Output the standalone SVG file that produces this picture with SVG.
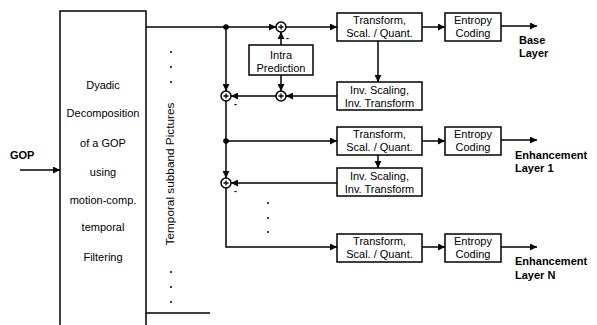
<svg xmlns="http://www.w3.org/2000/svg" width="597" height="325" viewBox="0 0 597 325">
<defs>
<marker id="ah" viewBox="0 0 10 10" refX="10" refY="5" markerWidth="7" markerHeight="7" markerUnits="userSpaceOnUse" orient="auto">
<path d="M0,0 L10,5 L0,10 z" fill="#000"/>
</marker>
<g id="sum">
<circle cx="0" cy="0" r="5" fill="#fff" stroke="#000" stroke-width="1.5"/>
<path d="M-2.5,0 H2.5 M0,-2.5 V2.5" stroke="#000" stroke-width="1.3"/>
</g>
</defs>
<style>
.box{fill:#fff;stroke:#000;stroke-width:1.5}
.t{font-family:"Liberation Sans",Arial,sans-serif;font-size:11px;text-anchor:middle;fill:#000}
.r{font-family:"Liberation Sans",Arial,sans-serif;font-size:11.8px;text-anchor:middle;fill:#000}
.b{font-family:"Liberation Sans",Arial,sans-serif;font-size:11px;font-weight:bold;fill:#000}
.c{fill:none;stroke:#000;stroke-width:1.5}
.a{marker-end:url(#ah)}
.m{font-family:"Liberation Sans",Arial,sans-serif;font-size:9px;font-weight:bold;fill:#000}
</style>
<rect width="597" height="325" fill="#fff"/>

<g id="decomposition">
<path class="c" d="M60,325 V11 H146 V325"/>
<text class="t" x="103" y="89">Dyadic</text>
<text class="t" x="103" y="117">Decomposition</text>
<text class="t" x="103" y="147">of a GOP</text>
<text class="t" x="103" y="176">using</text>
<text class="t" x="103" y="204">motion-comp.</text>
<text class="t" x="103" y="231">temporal</text>
<text class="t" x="103" y="261">Filtering</text>
</g>

<g id="gop-label"><text class="b" x="10" y="159">GOP</text></g>

<g id="subband-label">
<text class="r" transform="translate(174,174) rotate(-90)">Temporal subband Pictures</text>
<g fill="#000">
<circle cx="171" cy="52" r="1"/><circle cx="171" cy="67" r="1"/><circle cx="171" cy="82" r="1"/>
<circle cx="171" cy="272" r="1"/><circle cx="171" cy="287" r="1"/><circle cx="171" cy="302" r="1"/>
</g>
</g>

<g id="connectors">
<path class="c a" d="M20,170 H60"/>
<path class="c" d="M146,27 H226"/>
<path class="c a" d="M226,27 H276"/>
<path class="c a" d="M286,27 H337"/>
<path class="c a" d="M422,27 H445"/>
<path class="c a" d="M501,26 H537"/>
<path class="c a" d="M281,45 V32"/>
<path class="c a" d="M281,75 V91"/>
<path class="c a" d="M378,41 V82"/>
<path class="c a" d="M337,96 H286"/>
<path class="c a" d="M276,96 H231"/>
<path class="c a" d="M226,27 V91"/>
<path class="c a" d="M226,101 V178"/>
<path class="c a" d="M226,141 H337"/>
<path class="c a" d="M422,141 H445"/>
<path class="c a" d="M501,140 H537"/>
<path class="c a" d="M378,155 V168"/>
<path class="c a" d="M337,183 H231"/>
<path class="c a" d="M226,188 V247 H337"/>
<path class="c a" d="M422,247 H445"/>
<path class="c a" d="M501,247 H537"/>
<path class="c" d="M146,313 H210"/>
<circle cx="226" cy="27" r="2.8" fill="#000"/>
<circle cx="226" cy="141" r="2.8" fill="#000"/>
<g fill="#000">
<circle cx="268" cy="203" r="1"/><circle cx="268" cy="218" r="1"/><circle cx="268" cy="232" r="1"/>
</g>
</g>

<g id="sum1"><use href="#sum" x="281" y="27"/><text class="m" x="286" y="41">-</text></g>
<g id="sum2"><use href="#sum" x="281" y="96"/></g>
<g id="sum3"><use href="#sum" x="226" y="96"/><text class="m" x="234" y="107">-</text></g>
<g id="sum4"><use href="#sum" x="226" y="183"/><text class="m" x="234" y="194">-</text></g>

<g id="intra">
<rect class="box" x="249" y="45" width="64" height="30"/>
<text class="t" x="281" y="59">Intra</text>
<text class="t" x="281" y="72">Prediction</text>
</g>

<g id="transform1">
<rect class="box" x="337" y="13" width="85" height="28"/>
<text class="t" x="379.5" y="24">Transform,</text>
<text class="t" x="379.5" y="37">Scal. / Quant.</text>
</g>
<g id="entropy1">
<rect class="box" x="445" y="13" width="56" height="28"/>
<text class="t" x="473" y="24">Entropy</text>
<text class="t" x="473" y="37">Coding</text>
</g>
<g id="inv1">
<rect class="box" x="337" y="82" width="85" height="28"/>
<text class="t" x="379.5" y="94">Inv. Scaling,</text>
<text class="t" x="379.5" y="107">Inv. Transform</text>
</g>
<g id="base-label">
<text class="b" x="519" y="44">Base</text>
<text class="b" x="519" y="57">Layer</text>
</g>

<g id="transform2">
<rect class="box" x="337" y="127" width="85" height="28"/>
<text class="t" x="379.5" y="138">Transform,</text>
<text class="t" x="379.5" y="151">Scal. / Quant.</text>
</g>
<g id="entropy2">
<rect class="box" x="445" y="127" width="56" height="28"/>
<text class="t" x="473" y="138">Entropy</text>
<text class="t" x="473" y="151">Coding</text>
</g>
<g id="inv2">
<rect class="box" x="337" y="168" width="85" height="28"/>
<text class="t" x="379.5" y="180">Inv. Scaling,</text>
<text class="t" x="379.5" y="193">Inv. Transform</text>
</g>
<g id="enh1-label">
<text class="b" x="515" y="159">Enhancement</text>
<text class="b" x="515" y="172">Layer 1</text>
</g>

<g id="transformN">
<rect class="box" x="337" y="234" width="85" height="28"/>
<text class="t" x="379.5" y="245">Transform,</text>
<text class="t" x="379.5" y="258">Scal. / Quant.</text>
</g>
<g id="entropyN">
<rect class="box" x="445" y="234" width="56" height="28"/>
<text class="t" x="473" y="245">Entropy</text>
<text class="t" x="473" y="258">Coding</text>
</g>
<g id="enhN-label">
<text class="b" x="515" y="265">Enhancement</text>
<text class="b" x="515" y="279">Layer N</text>
</g>
</svg>
